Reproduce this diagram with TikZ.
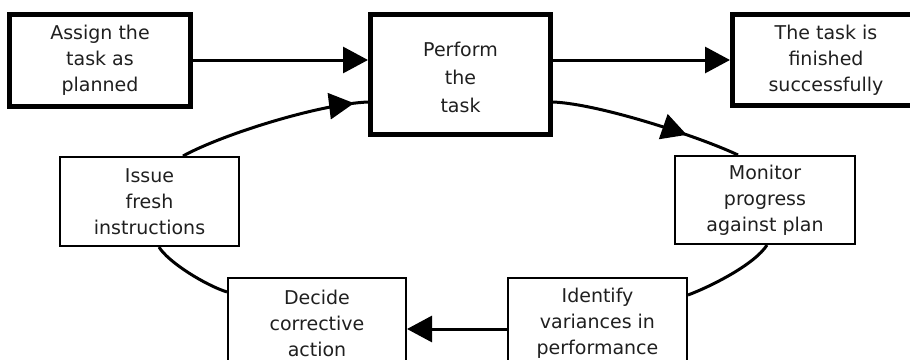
\documentclass[tikz,border=0pt]{standalone}
\usepackage{fontspec}
\setmainfont{DejaVu Sans}
\usetikzlibrary{arrows.meta,decorations.markings}
\begin{document}
\begin{tikzpicture}[x=1pt,y=-1pt,
  box/.style={draw, rectangle, align=center, inner sep=0pt, text=black!88, font=\fontsize{19}{26}\selectfont},
  thickbox/.style={box, line width=5pt},
  thinbox/.style={box, line width=2pt},
  conn/.style={line width=3pt},
  bigtip/.style={-{Triangle[length=25pt,width=26pt]}},
  midtip/.style={postaction={decorate}, decoration={markings, mark=at position #1 with {\arrow{Triangle[length=25pt,width=26pt]}}}}]
\useasboundingbox (0,0) rectangle (910,359);

\node[thickbox, minimum width=181pt, minimum height=92pt] (assign) at (100,60.5) {Assign the\\task as\\planned};
\node[thickbox, minimum width=180pt, minimum height=120pt, font=\fontsize{19}{28}\selectfont] (perform) at (460.5,74.5) {\rule{0pt}{20.5pt}Perform\\the\\task};
\node[thickbox, minimum width=187pt, minimum height=91pt] (finished) at (826,60) {The task is\\finished\\successfully};
\node[thinbox, minimum width=179pt, minimum height=89pt] (issue) at (149.5,201.5) {Issue\\fresh\\instructions};
\node[thinbox, minimum width=180pt, minimum height=88pt] (monitor) at (765,200) {Monitor\\progress\\against plan};
\node[thinbox, minimum width=178pt, minimum height=90pt] (decide) at (317,323) {Decide\\corrective\\action};
\node[thinbox, minimum width=179pt, minimum height=90pt] (ident) at (597.5,323) {Identify\\variances in\\performance};

\draw[conn, bigtip] (assign.east |- 0,60) -- (perform.west |- 0,60);
\draw[conn, bigtip] (perform.east |- 0,60) -- (finished.west |- 0,60);

\draw[conn, midtip=-14pt] ([xshift=33.5pt]issue.north) .. controls (223,134) and (320,104) .. ([yshift=-27.5pt]perform.west);
\draw[conn, midtip=-55pt] ([yshift=-27.5pt]perform.east) .. controls (600,104) and (700,137) .. ([xshift=-27pt]monitor.north);
\draw[conn] ([xshift=2pt]monitor.south) .. controls (755,264) and (712,286) .. ([yshift=28pt]ident.east);
\draw[conn, bigtip] ([yshift=-6pt]ident.west) -- ([yshift=-6pt]decide.east);
\draw[conn] ([yshift=31pt]decide.west) .. controls (205,285) and (168,262) .. ([xshift=9.5pt]issue.south);
\end{tikzpicture}
\end{document}
